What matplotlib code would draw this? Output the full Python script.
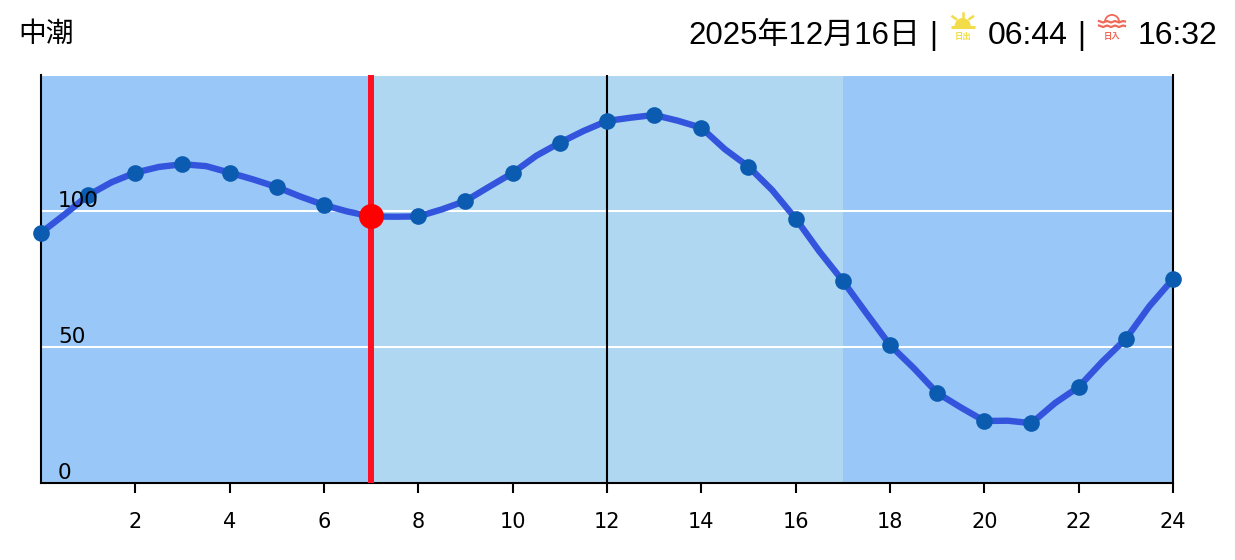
import matplotlib
matplotlib.use('Agg')
import matplotlib.pyplot as plt
from matplotlib.patches import Wedge

# half-hourly tide height
hours = [0, 0.5, 1, 1.5, 2, 2.5, 3, 3.5, 4, 4.5, 5, 5.5, 6, 6.5, 7, 7.5, 8, 8.5, 9, 9.5, 10, 10.5,
         11, 11.5, 12, 12.5, 13, 13.5, 14, 14.5, 15, 15.5, 16, 16.5, 17, 17.5, 18, 18.5, 19, 19.5,
         20, 20.5, 21, 21.5, 22, 22.5, 23, 23.5, 24]
tide = [92.0, 98.7, 105.8, 110.6, 114.1, 116.2, 117.2, 116.5, 114.1, 111.6, 108.8, 105.3, 102.2,
        99.8, 98.0, 97.9, 98.0, 100.6, 103.7, 108.9, 114.0, 120.3, 125.1, 129.4, 133.1, 134.3,
        135.3, 133.2, 130.6, 122.7, 116.3, 107.7, 97.2, 85.2, 74.3, 62.4, 50.7, 42.3, 33.1, 27.8,
        22.8, 22.9, 22.0, 29.4, 35.3, 44.6, 53.0, 65.0, 75.0]
marker_hours = hours[::2]
marker_tide = tide[::2]

now_hour = 7
now_tide = 98.0
day_start = 7
day_end = 17

x_ticks = list(range(2, 25, 2))
y_ticks = [0, 50, 100, 150]
y_labels = [0, 50, 100]

title = '中潮'
date_text = '2025年12月16日'
sunrise_text = '06:44'
sunset_text = '16:32'

W, H = 1235, 560
HEADER_FONT = ['Liberation Sans', 'Noto Sans CJK JP']

fig = plt.figure(figsize=(W / 100, H / 100), dpi=100)
ax = fig.add_axes([41 / W, 1 - 483 / H, (1173 - 41) / W, (483 - 75) / H])

ax.set_xlim(0, 24)
ax.set_ylim(0, 150)
ax.axvspan(0, day_start, color='#99c7f7', lw=0, zorder=0)
ax.axvspan(day_start, day_end, color='#afd7f1', lw=0, zorder=0)
ax.axvspan(day_end, 24, color='#99c7f7', lw=0, zorder=0)

ax.set_yticks(y_ticks)
ax.set_yticklabels([])
ax.set_xticks(x_ticks)
ax.set_xticklabels([str(t) for t in x_ticks])
ax.tick_params(axis='y', length=0)
ax.tick_params(axis='x', length=7, width=1.5, labelsize=15, pad=14)
ax.grid(axis='y', color='white', lw=1.5, zorder=1)
ax.set_axisbelow(True)

for side in ['top']:
    ax.spines[side].set_visible(False)
for side in ['left', 'right', 'bottom']:
    ax.spines[side].set_linewidth(1.5)

ax.axvline(12, color='black', lw=1.5, zorder=2)
ax.axvline(now_hour, color='#ff0f22', lw=4.3, zorder=3)
ax.plot(hours, tide, color='#3355dd', lw=4.6, zorder=4, clip_on=False)
ax.plot(marker_hours, marker_tide, 'o', color='#0b5cb0', ms=12, mew=0, zorder=5, clip_on=False)
ax.plot([now_hour], [now_tide], 'o', color='#ff0000', ms=18, mew=0, zorder=6)

for v in y_labels:
    ax.annotate(str(v), (0, v), xytext=(12.2, 3), textcoords='offset points',
                fontsize=15.5, va='baseline', ha='left', zorder=7)

# header, in pixel coordinates
top = fig.add_axes([0, 0, 1, 1], facecolor='none')
top.set_xlim(0, W)
top.set_ylim(H, 0)
top.axis('off')

top.text(18, 35, title, fontsize=20, family=HEADER_FONT, va='center', ha='left')
top.text(688, 44, date_text, fontsize=22.4, family=HEADER_FONT, va='baseline', ha='left')
top.text(933, 44, '|', fontsize=22, family=HEADER_FONT, va='baseline', ha='center')
top.text(988, 44, sunrise_text, fontsize=23, family=HEADER_FONT, va='baseline', ha='left')
top.text(1081, 44, '|', fontsize=22, family=HEADER_FONT, va='baseline', ha='center')
top.text(1138, 44, sunset_text, fontsize=23, family=HEADER_FONT, va='baseline', ha='left')

# sunrise icon
sun_col = '#f2dc4a'
top.add_patch(Wedge((962.7, 26), 8, 180, 360, color=sun_col, lw=0))
top.plot([951, 975], [27, 27], color=sun_col, lw=2.2, solid_capstyle='butt')
top.plot([962.7, 962.7], [12.5, 17], color=sun_col, lw=1.8)
top.plot([952.5, 956], [16.5, 19], color=sun_col, lw=1.8)
top.plot([973, 969.5], [16.5, 19], color=sun_col, lw=1.8)
top.text(963, 37, '日出', fontsize=6, color=sun_col, family='Noto Sans CJK JP',
         weight='bold', va='center', ha='center')

# sunset icon
set_col = '#ef6a58'
wave_x = [1099, 1103, 1107, 1111, 1115, 1119, 1123, 1125]
wave_a = [21, 22.5, 21, 22.5, 21, 22.5, 21, 21.5]
wave_b = [25.5, 27, 25.5, 27, 25.5, 27, 25.5, 26]
top.plot(wave_x, wave_a, color=set_col, lw=1.6)
top.plot(wave_x, wave_b, color=set_col, lw=1.6)
top.add_patch(Wedge((1112, 22), 8, 180, 360, width=1.8, color=set_col, lw=0))
top.text(1112, 37, '日入', fontsize=6, color=set_col, family='Noto Sans CJK JP',
         weight='bold', va='center', ha='center')

fig.savefig('out.png', dpi=100)
